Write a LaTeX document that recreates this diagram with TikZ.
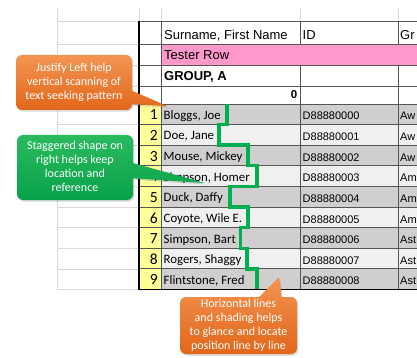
\documentclass[tikz,border=0pt]{standalone}
\usepackage{fontspec}
\setmainfont{Carlito}
\newfontfamily\arialfont{Liberation Sans}
\usetikzlibrary{shadows}

\definecolor{gridgray}{HTML}{D9D9D9}
\definecolor{rulegray}{HTML}{555555}
\definecolor{rowdark}{HTML}{D0CECE}
\definecolor{rowlight}{HTML}{F0F0F0}
\definecolor{testpink}{HTML}{FF99CC}
\definecolor{numyellow}{HTML}{FFFF99}
\definecolor{stairgreen}{HTML}{00B050}
\definecolor{orangetop}{HTML}{F39552}
\definecolor{orangebot}{HTML}{E1661A}
\definecolor{greentop}{HTML}{2BBA5E}
\definecolor{greenbot}{HTML}{08A24A}

\begin{document}
\begin{tikzpicture}[
  x=1pt,y=-1pt,
  sheetgrid/.style={gridgray,line width=0.6pt},
  cellrule/.style={rulegray,line width=0.8pt},
  tableframe/.style={black,line width=1.2pt},
  headtext/.style={font=\arialfont\fontsize{13}{15}\selectfont,anchor=base west,inner sep=0pt},
  idtext/.style={font=\arialfont\fontsize{11}{13}\selectfont,anchor=base west,inner sep=0pt},
  nametext/.style={font=\fontsize{12.8}{15}\selectfont,anchor=base west,inner sep=0pt},
  numtext/.style={font=\fontsize{15.5}{18}\selectfont,anchor=base east,inner sep=0pt},
  bubble/.style={rounded corners=6pt,drop shadow={opacity=0.3,shadow xshift=1.2pt,shadow yshift=-1.6pt}},
  notetext/.style={font=\fontsize{12}{14}\selectfont,text=white,align=center,inner sep=0pt},
  staircase/.style={stairgreen,line width=3.4pt,line join=miter}]

  \useasboundingbox (0,0) rectangle (417,358);

  % Worksheet grid round the table
  \foreach \x in {57,139,161,300,398}
    \draw[sheetgrid] (\x,8) -- (\x,21);
  \draw[sheetgrid] (57,8) -- (57,289.4);
  \foreach \y in {21,44,65,86,104}
    \draw[sheetgrid] (57,\y) -- (139,\y);

  % Header rows
  \fill[testpink] (161,44) rectangle (417,65);
  \node[headtext] (surname) at (164,39.5) {Surname, First Name};
  \node[headtext] (idhead) at (302.5,39.5) {ID};
  \node[headtext] (grphead) at (400,39.5) {Gr};
  \node[headtext] (tester) at (164,60) {Tester Row};
  \node[headtext,font=\arialfont\bfseries\fontsize{13}{15}\selectfont] (group) at (164,81) {GROUP, A};
  \node[font=\arialfont\bfseries\fontsize{11.5}{13}\selectfont,anchor=base east,inner sep=0pt] (zero) at (297.5,99) {0};

  % Data rows
  \foreach \nm/\id/\gr/\tone [count=\k] in {
      {Bloggs, Joe}/D88880000/Aw/rowdark,
      {Doe, Jane}/D88880001/Aw/rowlight,
      {Mouse, Mickey}/D88880002/Aw/rowdark,
      {Simpson, Homer}/D88880003/Am/rowlight,
      {Duck, Daffy}/D88880004/Am/rowdark,
      {Coyote, Wile E.}/D88880005/Am/rowlight,
      {Simpson, Bart}/D88880006/Ast/rowdark,
      {Rogers, Shaggy}/D88880007/Ast/rowlight,
      {Flintstone, Fred}/D88880008/Ast/rowdark}
  {
    \pgfmathsetmacro{\yt}{104+(\k-1)*20.6}
    \pgfmathsetmacro{\yb}{\yt+20.6}
    \fill[numyellow] (139,\yt) rectangle (161,\yb);
    \fill[\tone] (161,\yt) rectangle (417,\yb);
    \draw[cellrule] (139,\yt) -- (417,\yt);
    \draw[sheetgrid] (57,\yb) -- (139,\yb);
    \node[numtext] (num\k) at (158,\yb-4.6) {\k};
    \node[nametext] (name\k) at (163.5,\yb-5.2) {\nm};
    \node[idtext] (id\k) at (302.5,\yb-4.6) {\id};
    \node[idtext] (grp\k) at (400,\yb-4.6) {\gr};
  }

  % Cell rules and frame
  \foreach \y in {21,44,65,86}
    \draw[cellrule] (139,\y) -- (417,\y);
  \draw[cellrule] (161,21) -- (161,289.4);
  \foreach \x in {300,398} {
    \draw[cellrule] (\x,21) -- (\x,44);
    \draw[cellrule] (\x,65) -- (\x,289.4);
  }
  \draw[tableframe] (139,21) -- (139,289.4) -- (417,289.4);

  % Staggered right edge of the names
  \draw[staircase] (227,104) |- (219,124.6) |- (248,145.2) |- (257,165.8)
    |- (230,186.4) |- (248,207) |- (240.5,227.6) |- (247,248.2)
    |- (257,268.8) -- (257,289.4);

  % Callouts
  \shade[bubble,top color=orangetop,bottom color=orangebot]
    (16,55) -- (132,55) -- (132,110) -- (16,110) -- cycle
    [sharp corners] (128,89) -- (167,106) -- (128,104) -- cycle;
  \node[notetext] (justify) at (74,82.5) {Justify Left help\\vertical scanning of\\text seeking pattern};

  \shade[bubble,top color=greentop,bottom color=greenbot]
    (17,135) -- (133,135) -- (133,200) -- (17,200) -- cycle
    [sharp corners] (129,162) -- (205,183) -- (129,178) -- cycle;
  \node[notetext] (staggered) at (75,166) {Staggered shape on\\right helps keep\\location and\\reference};

  \shade[bubble,top color=orangetop,bottom color=orangebot]
    (180,297) -- (297,297) -- (297,354) -- (180,354) -- cycle
    [sharp corners] (256,300) -- (279,277) -- (282,300) -- cycle;
  \node[notetext] (shading) at (238.5,325.5) {Horizontal lines\\and shading helps\\to glance and locate\\position line by line};
\end{tikzpicture}
\end{document}
